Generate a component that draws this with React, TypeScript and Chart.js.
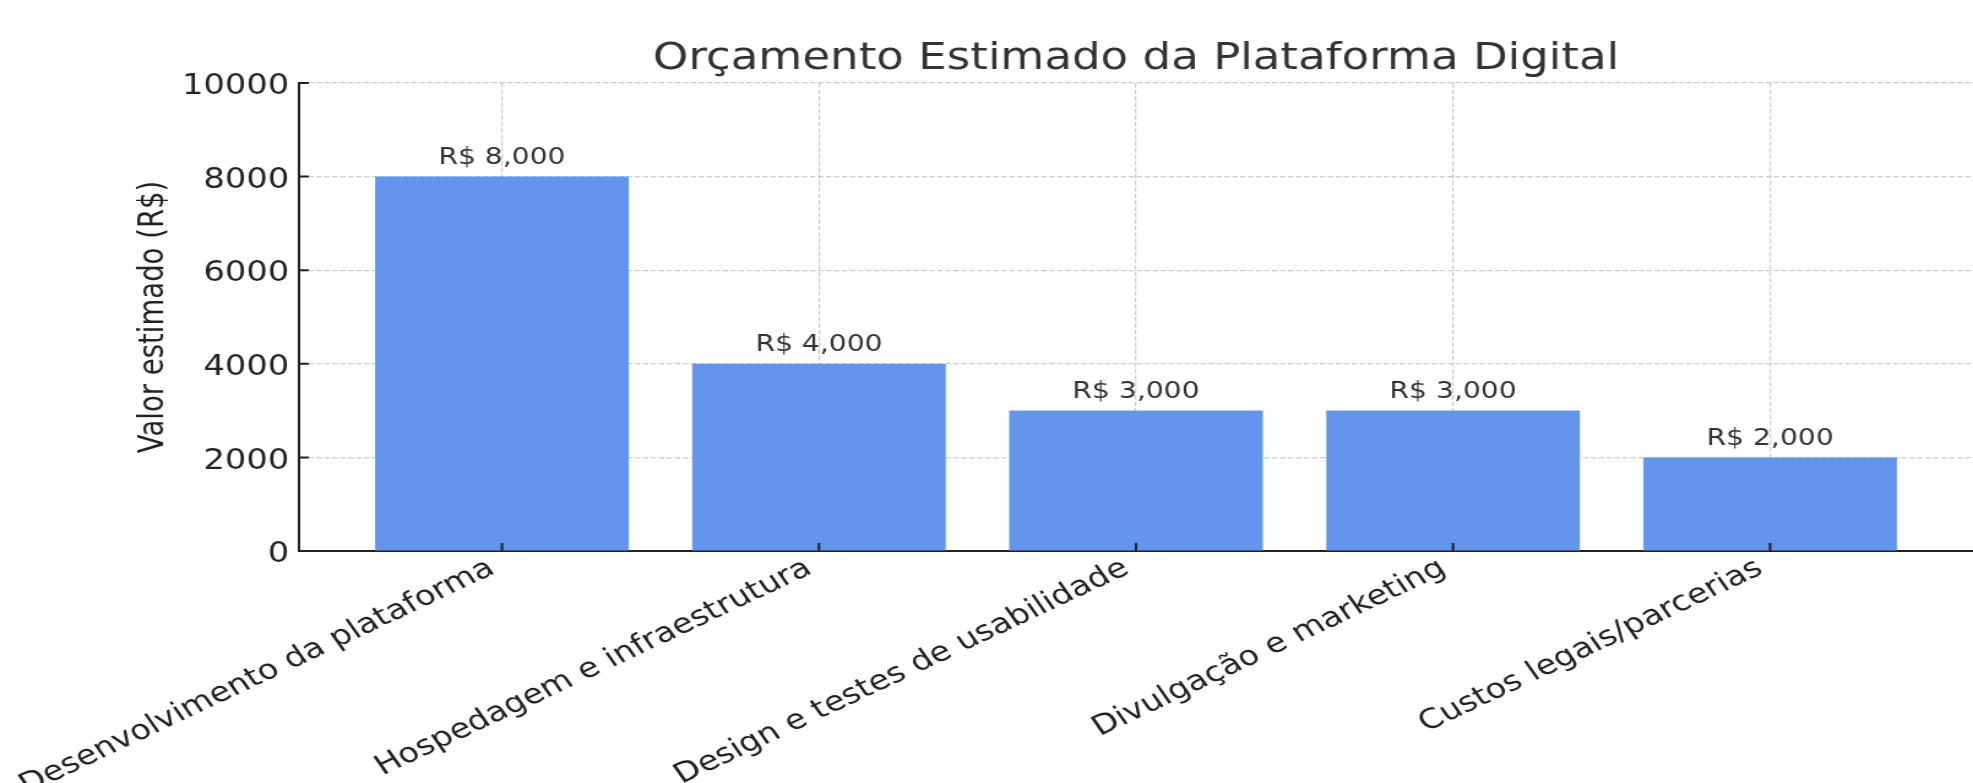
import React, { useEffect, useRef } from "react";
import { Chart, registerables } from "chart.js";

Chart.register(...registerables);

const title = "Orçamento Estimado da Plataforma Digital";
const yAxisTitle = "Valor estimado (R$)";
const categories = [
  "Desenvolvimento da plataforma",
  "Hospedagem e infraestrutura",
  "Design e testes de usabilidade",
  "Divulgação e marketing",
  "Custos legais/parcerias",
];
const values = [8000, 4000, 3000, 3000, 2000];
const yTicks = [0, 2000, 4000, 6000, 8000, 10000];

const FONT = '"DejaVu Sans", "Liberation Sans", sans-serif';
const BASE_W = 1610;
const H = 783;
const STRETCH = 1973 / BASE_W;

const formatValue = (v: number) => "R$ " + v.toLocaleString("en-US");

const innerTicks = {
  id: "innerTicks",
  afterDraw(chart: any) {
    const { ctx, chartArea, scales } = chart;
    ctx.save();
    ctx.strokeStyle = "#222";
    ctx.lineWidth = 2;
    ctx.beginPath();
    for (const v of yTicks) {
      const y = scales.y.getPixelForValue(v);
      ctx.moveTo(chartArea.left, y);
      ctx.lineTo(chartArea.left + 8, y);
    }
    categories.forEach((_, i) => {
      const x = scales.x.getPixelForValue(i);
      ctx.moveTo(x, chartArea.bottom);
      ctx.lineTo(x, chartArea.bottom - 8);
    });
    ctx.stroke();
    ctx.restore();
  },
};

const barLabels = {
  id: "barLabels",
  afterDraw(chart: any) {
    const { ctx, scales } = chart;
    ctx.save();
    ctx.font = `23px ${FONT}`;
    ctx.fillStyle = "#333";
    ctx.textAlign = "center";
    ctx.textBaseline = "alphabetic";
    values.forEach((v, i) => {
      const x = scales.x.getPixelForValue(i);
      const y = scales.y.getPixelForValue(v);
      ctx.fillText(formatValue(v), x, y - 12.5);
    });
    ctx.restore();
  },
};

export default function App() {
  const canvasRef = useRef<HTMLCanvasElement | null>(null);

  useEffect(() => {
    document.body.style.margin = "0";
    document.body.style.overflow = "hidden";
    const canvas = canvasRef.current;
    if (!canvas) return;
    const gridColor = "rgba(176,176,176,0.65)";
    const chart = new Chart(canvas, {
      type: "bar",
      data: {
        datasets: [
          {
            data: values.map((v, i) => ({ x: i, y: v })),
            backgroundColor: "#6495ED",
            borderWidth: 0,
            barPercentage: 0.8,
            categoryPercentage: 1,
          },
        ],
      },
      options: {
        animation: false,
        responsive: true,
        maintainAspectRatio: false,
        devicePixelRatio: 1,
        layout: { padding: 0 },
        plugins: {
          legend: { display: false },
          tooltip: { enabled: false },
          title: {
            display: true,
            text: title,
            fullSize: false,
            color: "#333",
            font: { family: FONT, size: 36.8, weight: "normal" as any, lineHeight: 1.2 },
            padding: { top: 37.5, bottom: 1.34 },
          },
        },
        scales: {
          x: {
            type: "linear",
            min: -0.64,
            max: 4.64,
            offset: false,
            z: 1,
            afterBuildTicks: (scale: any) => {
              scale.ticks = categories.map((_, i) => ({ value: i }));
            },
            afterFit: (scale: any) => {
              scale.height = H - 551;
              scale.paddingLeft = 0;
              scale.paddingRight = 0;
            },
            ticks: {
              autoSkip: false,
              minRotation: 30,
              maxRotation: 30,
              padding: 1,
              labelOffset: -8,
              color: "#222",
              font: { family: FONT, size: 27.5 },
              callback: (v: any) => categories[v as number] ?? "",
            },
            grid: {
              color: gridColor,
              lineWidth: 1.2,
              drawTicks: false,
              offset: false,
            },
            border: { display: true, color: "#222", width: 2, dash: [4.5, 2] },
          },
          y: {
            type: "linear",
            min: 0,
            max: 10000,
            z: 1,
            afterBuildTicks: (scale: any) => {
              scale.ticks = yTicks.map((v) => ({ value: v }));
            },
            afterFit: (scale: any) => {
              scale.width = 244;
            },
            ticks: {
              padding: 8,
              labelOffset: 4,
              color: "#222",
              font: { family: FONT, size: 27.5 },
              callback: (v: any) => String(v),
            },
            grid: {
              color: gridColor,
              lineWidth: 1.2,
              drawTicks: false,
            },
            border: { display: true, color: "#222", width: 2, dash: [4.5, 2] },
            title: {
              display: true,
              text: yAxisTitle,
              color: "#222",
              font: { family: FONT, size: 27.5, lineHeight: 1.2 },
              padding: { top: 109.5, bottom: 0 },
            },
          },
        },
      },
      plugins: [innerTicks, barLabels],
    });
    return () => chart.destroy();
  }, []);

  return (
    <div
      style={{
        width: BASE_W,
        height: H,
        transform: `scaleX(${STRETCH})`,
        transformOrigin: "0 0",
        position: "relative",
      }}
    >
      <canvas ref={canvasRef} />
    </div>
  );
}
